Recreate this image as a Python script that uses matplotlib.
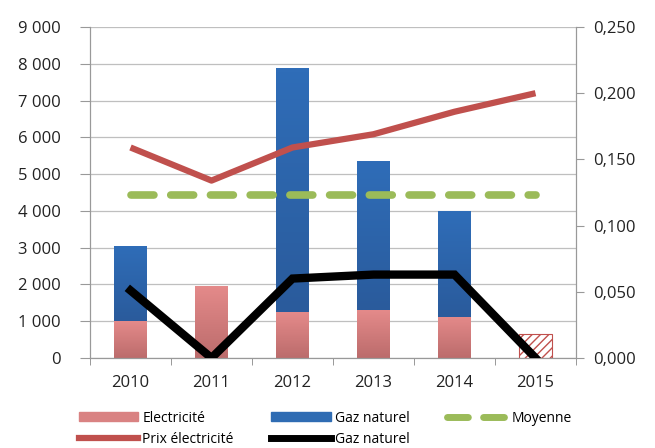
import matplotlib
matplotlib.use('agg')
import matplotlib.pyplot as plt
import numpy as np
from matplotlib.ticker import FuncFormatter, MultipleLocator
from matplotlib.lines import Line2D
from matplotlib.patches import Patch
from matplotlib.colors import LinearSegmentedColormap

annees = ['2010', '2011', '2012', '2013', '2014', '2015']
electricite = [1000, 1950, 1250, 1300, 1120, 650]
gaz = [2050, 0, 6630, 4050, 2880, 0]
prix_elec = [0.159, 0.134, 0.159, 0.169, 0.186, 0.200]
prix_gaz = [0.051, 0.000, 0.060, 0.063, 0.063, 0.000]
moyenne = [0.123] * 6

plt.rcParams['font.family'] = ['Open Sans', 'DejaVu Sans']

fig = plt.figure(figsize=(6.55, 4.48), dpi=100)
ax = fig.add_axes([90 / 655, 1 - 358 / 448, 486 / 655, 331 / 448])
ax2 = ax.twinx()

# degrades facon Excel
cm_rouge = LinearSegmentedColormap.from_list('r', ['#bc6c6c', '#e48a8a'])
cm_bleu = LinearSegmentedColormap.from_list('b', ['#2a5b9c', '#2f6db8'])
grad = np.linspace(0, 1, 64).reshape(-1, 1)

def degrade(a, bars, cmap):
    for b in bars:
        x0, y0 = b.get_x(), b.get_y()
        w, h = b.get_width(), b.get_height()
        if h <= 0:
            continue
        im = a.imshow(grad, cmap=cmap, origin='lower', aspect='auto',
                      extent=(x0, x0 + w, y0, y0 + h), zorder=2)
        im.set_clip_path(b)

x = list(range(len(annees)))
rouge = '#d98282'
bleu = '#2f6cb3'
n = len(annees)
b_elec = ax.bar(x[:-1], electricite[:-1], width=0.4, color='none', zorder=2)
ax.bar(x[-1], electricite[-1], width=0.4, color='white', edgecolor='#c0504d',
       hatch='////', linewidth=0.8, zorder=2)
b_gaz = ax.bar(x, gaz, width=0.4, bottom=electricite, color='none', zorder=2)
degrade(ax, b_elec, cm_rouge)
degrade(ax, b_gaz, cm_bleu)

ax.set_xlim(-0.5, n - 0.5)
ax.set_ylim(0, 9000)
ax.yaxis.set_major_locator(MultipleLocator(1000))
ax.yaxis.set_major_formatter(FuncFormatter(lambda v, p: '{:,}'.format(int(v)).replace(',', ' ')))
ax.grid(axis='y', color='#bfbfbf', linewidth=0.9, zorder=0)
ax.set_axisbelow(True)
ax.set_xticks(x)
ax.set_xticklabels(annees)
ax.set_xticks([i - 0.5 for i in range(n + 1)], minor=True)
ax.tick_params(axis='x', which='major', length=0, labelsize=12, pad=12, colors='#222222')
ax.tick_params(axis='x', which='minor', length=5, color='#888888')
ax.tick_params(axis='y', length=7, labelsize=12, pad=14, colors='#222222')
ax.tick_params(axis='y', color='#999999')

ax2.plot(x, prix_elec, color='#c0504d', linewidth=4.5, solid_capstyle='butt', zorder=3)
ax2.plot(x, moyenne, color='#9bbb59', linewidth=5.5, dashes=(3, 2.2), dash_capstyle='round', zorder=3)
ax2.plot(x, prix_gaz, color='black', linewidth=6, solid_joinstyle='miter', zorder=4)
ax2.set_ylim(0, 0.25)
ax2.yaxis.set_major_locator(MultipleLocator(0.05))
ax2.yaxis.set_major_formatter(FuncFormatter(lambda v, p: '{:.3f}'.format(v).replace('.', ',')))
ax2.tick_params(axis='y', length=6, labelsize=12, pad=6, colors='#222222')
ax2.tick_params(axis='y', color='#999999')

for a in (ax, ax2):
    a.spines['top'].set_visible(False)
    for s in ('left', 'right', 'bottom'):
        a.spines[s].set_color('#999999')

handles = [Patch(color=rouge), Patch(color=bleu),
           Line2D([], [], color='#9bbb59', linewidth=5, dashes=(3, 2.2), dash_capstyle='round'),
           Line2D([], [], color='#c0504d', linewidth=4.5),
           Line2D([], [], color='black', linewidth=5)]
labels = ['Electricité', 'Gaz naturel', 'Moyenne', 'Prix électricité', 'Gaz naturel']
order = [0, 3, 1, 4, 2]
fig.legend([handles[i] for i in order], [labels[i] for i in order], ncol=3,
           loc='upper left', bbox_to_anchor=(66 / 655, 1 - 398 / 448), frameon=False,
           fontsize=10, handlelength=4.3, handleheight=0.6, columnspacing=2.7,
           labelspacing=0.45, handletextpad=0.3)

plt.savefig('out.png')
